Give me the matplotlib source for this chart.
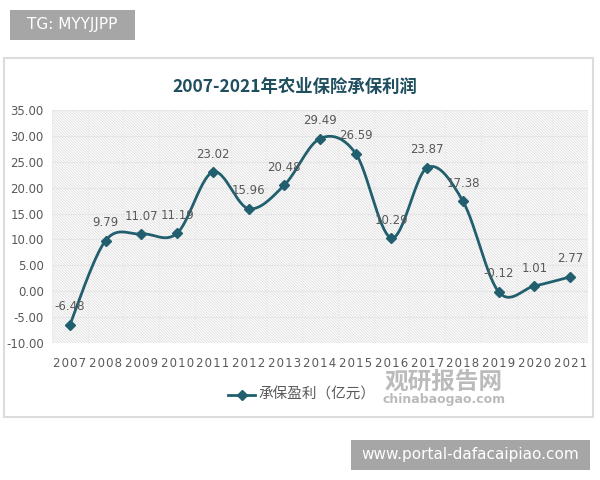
import matplotlib.pyplot as plt
import matplotlib.patches as patches
import numpy as np

plt.rcParams['font.family'] = ['Noto Sans CJK SC', 'DejaVu Sans']
plt.rcParams['hatch.linewidth'] = 0.6

years = ['2007', '2008', '2009', '2010', '2011', '2012', '2013', '2014',
         '2015', '2016', '2017', '2018', '2019', '2020', '2021']
profit = [-6.48, 9.79, 11.07, 11.19, 23.02, 15.96, 20.48, 29.49,
          26.59, 10.29, 23.87, 17.38, -0.12, 1.01, 2.77]
labels = ['-6.48', '9.79', '11.07', '11.19', '23.02', '15.96', '20.48', '29.49',
          '26.59', '10.29', '23.87', '17.38', '-0.12', '1.01', '2.77']
yticks = [-10, -5, 0, 5, 10, 15, 20, 25, 30, 35]

line_color = '#215f6e'
text_gray = '#595959'


def smooth(xs, ys, n=30):
    # catmull-rom, close to excel's smoothed line
    p = np.column_stack([xs, ys]).astype(float)
    p = np.vstack([p[0], p, p[-1]])
    out = []
    t = np.linspace(0, 1, n)[:, None]
    for i in range(1, len(p) - 2):
        p0, p1, p2, p3 = p[i - 1], p[i], p[i + 1], p[i + 2]
        seg = 0.5 * ((2 * p1) + (-p0 + p2) * t + (2 * p0 - 5 * p1 + 4 * p2 - p3) * t ** 2
                     + (-p0 + 3 * p1 - 3 * p2 + p3) * t ** 3)
        out.append(seg)
    out = np.vstack(out)
    return out[:, 0], out[:, 1]


fig = plt.figure(figsize=(6, 4.8), dpi=100)

# chart frame
fig.patches.append(patches.Rectangle((4 / 600, 1 - 417 / 480), 589 / 600, 359 / 480,
                                     transform=fig.transFigure, facecolor='white',
                                     edgecolor='#dcdcdc', linewidth=1.5, zorder=-1))
# top label box
fig.patches.append(patches.Rectangle((10 / 600, 1 - 40 / 480), 125 / 600, 30 / 480,
                                     transform=fig.transFigure, facecolor='#a6a6a6',
                                     edgecolor='none'))
fig.text(72 / 600, 1 - 25 / 480, 'TG: MYYJJPP', color='white', fontsize=11,
         ha='center', va='center', family=['DejaVu Sans'])
# bottom label box
fig.patches.append(patches.Rectangle((351 / 600, 1 - 470 / 480), 239 / 600, 30 / 480,
                                     transform=fig.transFigure, facecolor='#a6a6a6',
                                     edgecolor='none'))
fig.text(470 / 600, 1 - 455 / 480, 'www.portal-dafacaipiao.com', color='white',
         fontsize=11, ha='center', va='center', family=['DejaVu Sans'])

ax = fig.add_axes([52 / 600, 1 - 343 / 480, 536 / 600, 233 / 480])
ax.patch.set_alpha(0)
ax.add_patch(patches.Rectangle((0, 0), 1, 1, transform=ax.transAxes, facecolor='white',
                               edgecolor='#dedede', hatch='\\' * 12, linewidth=0, zorder=0))

x = np.arange(len(years))
ax.set_xlim(-0.5, len(years) - 0.5)
ax.set_ylim(-10, 35)
for b in np.arange(-0.5, len(years), 1):
    ax.axvline(b, color='#ececec', lw=0.8, zorder=1)
for v in yticks:
    ax.axhline(v, color='#e6e6e6', lw=0.8, zorder=1)

sx, sy = smooth(x, profit)
ax.plot(sx, sy, color=line_color, lw=2, zorder=3)
ax.plot(x, profit, linestyle='none', marker='D', markersize=5.5, color=line_color, zorder=4)

for xi, yi, lab in zip(x, profit, labels):
    ax.text(xi, yi + 2.2, lab, ha='center', va='bottom', fontsize=8.5, color=text_gray,
            family=['DejaVu Sans'], zorder=5)

ax.set_yticks(yticks)
ax.set_yticklabels(['%.2f' % v for v in yticks], fontsize=8.5, color=text_gray,
                   family=['DejaVu Sans'])
ax.set_xticks(x)
ax.set_xticklabels(['\u200a'.join(y) for y in years], fontsize=8.5, color=text_gray,
                   family=['DejaVu Sans'])
ax.tick_params(length=0, axis='y', pad=6)
ax.tick_params(length=0, axis='x', pad=10)
for s in ax.spines.values():
    s.set_visible(False)

fig.text(295 / 600, 1 - 87 / 480, '2007-2021年农业保险承保利润', fontsize=12.5,
         fontweight='bold', color='#1f4e5f', ha='center', va='center')

# legend
fig.add_artist(plt.Line2D([228 / 600, 241.5 / 600, 255 / 600], [1 - 395 / 480] * 3,
                          color=line_color, lw=2, marker='D', markersize=5.5,
                          markevery=[1], transform=fig.transFigure))
fig.text(258 / 600, 1 - 395 / 480, '承保盈利（亿元）', fontsize=10.5, color=text_gray,
         ha='left', va='center')

# watermark
fig.text(444 / 600, 1 - 382 / 480, '观研报告网', fontsize=17, fontweight='bold',
         color='#b0b0b0', ha='center', va='center', alpha=0.85)
fig.text(444 / 600, 1 - 400 / 480, 'chinabaogao.com', fontsize=9, fontweight='bold',
         color='#b0b0b0', ha='center', va='center', family=['DejaVu Sans'], alpha=0.85)

fig.savefig('out.png', dpi=100)
